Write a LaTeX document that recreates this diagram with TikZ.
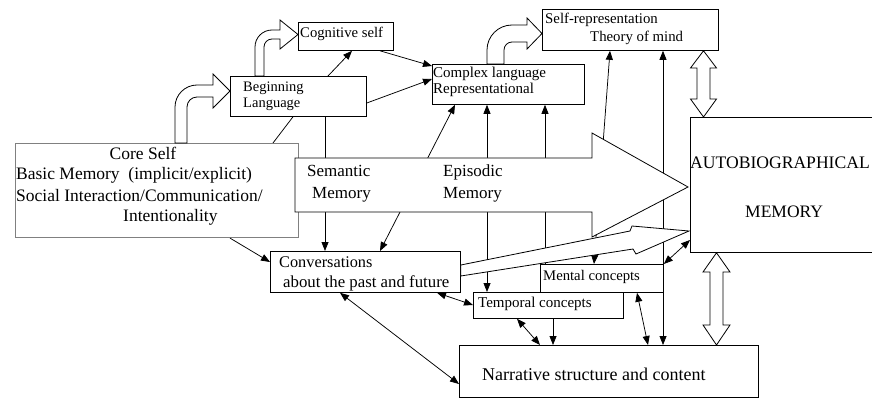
\documentclass[tikz,border=0pt]{standalone}
\usepackage{fontspec}
\setmainfont{Liberation Serif}
\usetikzlibrary{arrows.meta}
\newcommand{\fsz}[1]{\fontsize{#1}{#1}\selectfont}
\begin{document}
\begin{tikzpicture}[x=1pt,y=-1pt,
  box/.style={draw=black, line width=0.8pt, fill=white, inner sep=0pt, anchor=north west},
  txt/.style={inner sep=0pt, anchor=base west},
  con/.style={draw=black, line width=0.75pt},
  hollow/.style={draw=black, line width=0.8pt, fill=white, line join=miter},
  >={Triangle[length=9pt,width=7pt]}
]
\path[use as bounding box] (0,0) rectangle (872,398);
\clip (0,0) rectangle (872,398);

% boxes
\node[box, draw=black!50, line width=1.1pt, minimum width=283pt, minimum height=94pt] (core) at (15,143) {};
\node[box, minimum width=136pt, minimum height=40pt] (beg) at (230,76) {};
\node[box, minimum width=95pt, minimum height=28pt] (cog) at (298,22) {};
\node[box, minimum width=152pt, minimum height=40pt] (cpx) at (432,64) {};
\node[box, minimum width=176pt, minimum height=41pt] (srep) at (542,9) {};
\node[box, minimum width=200pt, minimum height=135pt] (auto) at (690,117) {};
\node[box, minimum width=190pt, minimum height=41pt] (conv) at (270,251) {};
\node[box, minimum width=123pt, minimum height=28pt] (ment) at (540,264) {};
\node[box, minimum width=150pt, minimum height=26pt] (temp) at (473,292) {};
\node[box, minimum width=299pt, minimum height=52pt] (narr) at (459,345) {};

% connectors
\draw[con,->] (328,0 |- beg.north) -- (352,0 |- cog.south);
\draw[con,->] (380,0 |- cog.south) -- (cpx.west |- 0,66);
\draw[con,->] (beg.east |- 0,103) -- (cpx.west |- 0,79);
\draw[con] (293,0 |- beg.south) -- (273,0 |- core.north);
\draw[con,->] (325,0 |- beg.south) -- (325,0 |- conv.north);
\draw[con,<->] (380,0 |- conv.north) -- (455,0 |- cpx.south);
\draw[con,<->] (487,0 |- cpx.south) -- (487,0 |- temp.north);
\draw[con,<-] (545,0 |- cpx.south) -- (545,0 |- ment.north);
\draw[con,<->] (610,0 |- srep.south) -- (594,0 |- ment.north);
\draw[con,<->] (663,0 |- srep.south) -- (663,0 |- narr.north);
\draw[con,->] (230,0 |- core.south) -- (conv.west |- 0,262);
\draw[con,<->] (437,0 |- conv.south) -- (temp.west |- 0,305);
\draw[con,<->] (340,0 |- conv.south) -- (narr.west |- 0,384);
\draw[con,<->] (517,0 |- temp.south) -- (540,0 |- narr.north);
\draw[con,->] (553,0 |- temp.south) -- (553,0 |- narr.north);
\draw[con,<->] (637,0 |- ment.south) -- (648,0 |- narr.north);
\draw[con,<->] (ment.north east) -- (auto.west |- 0,240);

% big arrow (semantic / episodic memory)
\draw[hollow] (295,158) -- (592,158) -- (592,133) -- (688,187) -- (592,237) -- (592,212) -- (295,212) -- cycle;
% thin arrow conversations -> autobiographical memory
\draw[hollow] (conv.east |- 0,265) -- (630,231) -- (632,226) -- (689,231) -- (636,254) -- (633,249) -- (conv.east |- 0,276) -- cycle;

% bent hollow arrows
\draw[hollow] (175,0 |- core.north) -- (175,107) .. controls (175,94.9) and (184.9,85) .. (197,85) -- (213,85) -- (213,74) -- (230,91) -- (213,108) -- (213,97) -- (197,97) .. controls (191.5,97) and (187,101.5) .. (187,107) -- (187,0 |- core.north) -- cycle;
\draw[hollow] (255,0 |- beg.north) -- (255,47) .. controls (255,37.6) and (262.6,30) .. (272,30) -- (280,30) -- (280,20) -- (298,34.5) -- (280,49) -- (280,39) -- (272,39) .. controls (267.6,39) and (264,42.6) .. (264,47) -- (264,0 |- beg.north) -- cycle;
\draw[hollow] (487,0 |- cpx.north) -- (487,50) .. controls (487,36.2) and (498.2,25) .. (512,25) -- (527,25) -- (527,18) -- (542,33.5) -- (527,49) -- (527,42) -- (512,42) .. controls (507.6,42) and (504,45.6) .. (504,50) -- (504,0 |- cpx.north) -- cycle;

% vertical double hollow arrows
\draw[hollow] (703.5,0 |- srep.south) -- (716.5,68) -- (710,68) -- (710,99) -- (716.5,99) -- (703.5,0 |- auto.north) -- (690.5,99) -- (697,99) -- (697,68) -- (690.5,68) -- cycle;
\draw[hollow] (716.5,0 |- auto.south) -- (730,272) -- (723,272) -- (723,325) -- (730,325) -- (716.5,0 |- narr.north) -- (703,325) -- (710,325) -- (710,272) -- (703,272) -- cycle;

% texts
\node[inner sep=0pt, anchor=base, font=\fsz{17.5}] (t1) at (143,160) {Core Self};
\node[txt, font=\fsz{17.5}] (t2) at (16,180) {Basic Memory\ \ (implicit/explicit)};
\node[txt, font=\fsz{17.5}] (t3) at (16,201) {Social Interaction/Communication/};
\node[txt, font=\fsz{17.5}] (t4) at (123,221) {Intentionality};
\node[txt, font=\fsz{14.5}] (t5) at (243,92) {Beginning};
\node[txt, font=\fsz{14.5}] (t6) at (243,108) {Language};
\node[txt, font=\fsz{14.7}] (t7) at (300,38) {Cognitive self};
\node[txt, font=\fsz{15}] (t8) at (433,78) {Complex language};
\node[txt, font=\fsz{15}] (t9) at (433,94) {Representational};
\node[txt, font=\fsz{14.8}] (t10) at (545,24) {Self-representation};
\node[txt, font=\fsz{14.8}] (t11) at (590,42) {Theory of mind};
\node[txt, font=\fsz{17}] (t12) at (307,177) {Semantic};
\node[txt, font=\fsz{17}] (t13) at (312,198) {Memory};
\node[txt, font=\fsz{17}] (t14) at (443,177) {Episodic};
\node[txt, font=\fsz{17}] (t15) at (443,198) {Memory};
\node[txt, font=\fsz{17.6}] (t16) at (690,169) {AUTOBIOGRAPHICAL};
\node[txt, font=\fsz{17.5}] (t17) at (745,217) {MEMORY};
\node[txt, font=\fsz{16.3}] (t18) at (279,267) {Conversations};
\node[txt, font=\fsz{16.8}] (t19) at (283,287) {about the past and future};
\node[txt, font=\fsz{14.7}] (t20) at (543,280) {Mental concepts};
\node[txt, font=\fsz{15}] (t21) at (478,307) {Temporal concepts};
\node[txt, font=\fsz{18}] (t22) at (482,380) {Narrative structure and content};
\end{tikzpicture}
\end{document}
